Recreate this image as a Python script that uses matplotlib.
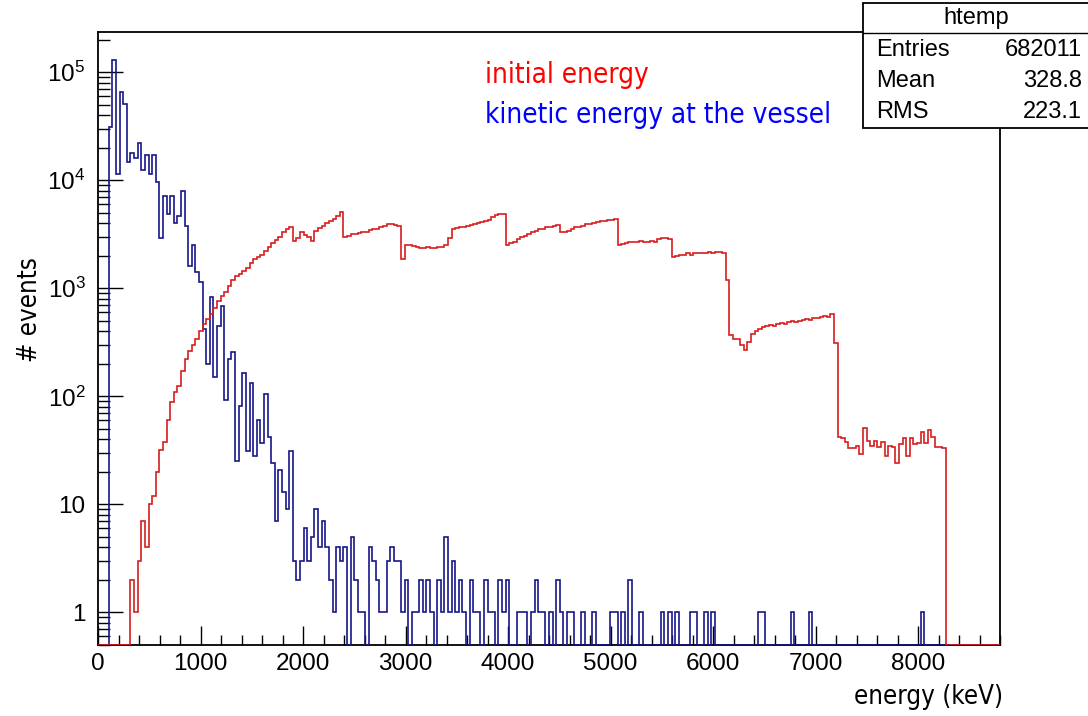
import numpy as np
import matplotlib
matplotlib.use('Agg')
import matplotlib.pyplot as plt
from matplotlib.patches import Rectangle
from matplotlib.lines import Line2D
from matplotlib.ticker import MultipleLocator, FixedLocator, FixedFormatter, LogLocator, NullFormatter

plt.rcParams['font.family'] = ['Liberation Sans', 'DejaVu Sans']
plt.rcParams['mathtext.default'] = 'regular'
narrow = dict(family='DejaVu Sans', stretch='condensed')

# histogram binning (keV)
n_bins = 250
e_min, e_max = 0.0, 8800.0

# initial energy, bins 9..234
red_first = 9
red_counts = [
    2, 1, 3, 7, 4, 10, 12, 20, 32, 38, 60, 88, 110, 125, 170, 220, 260, 300, 340, 400,
    470, 520, 580, 650, 760, 850, 920, 1050, 1200, 1300, 1350, 1450, 1550, 1700, 1850, 1950, 2050, 2200, 2400, 2600,
    2800, 3000, 3300, 3500, 3700, 2750, 2900, 3300, 3100, 2950, 2750, 3400, 3600, 3800, 4000, 4200, 4400, 4700, 5100, 2950,
    3050, 3150, 3200, 3250, 3300, 3350, 3450, 3500, 3550, 3650, 3800, 3900, 3900, 3850, 3800, 1850, 2500, 2500, 2450, 2400,
    2350, 2350, 2400, 2350, 2350, 2400, 2400, 2500, 2900, 3500, 3600, 3650, 3700, 3800, 3850, 3950, 4000, 4100, 4200, 4300,
    4600, 4800, 4900, 4900, 2500, 2600, 2700, 2850, 2950, 3050, 3200, 3300, 3400, 3500, 3550, 3650, 3700, 3800, 3850, 3300,
    3300, 3400, 3550, 3650, 3700, 3800, 3900, 3950, 4050, 4100, 4150, 4200, 4300, 4300, 4350, 2500, 2550, 2650, 2700, 2700,
    2700, 2750, 2700, 2700, 2750, 2700, 2850, 2900, 2900, 2850, 1950, 2000, 2050, 2050, 2100, 2050, 2100, 2100, 2100, 2100,
    2150, 2100, 2150, 2150, 2100, 1200, 370, 340, 340, 300, 270, 320, 380, 400, 420, 440, 450, 460, 450, 470,
    480, 470, 490, 500, 490, 500, 510, 520, 510, 530, 530, 540, 550, 540, 580, 310, 42, 41, 38, 33,
    33, 35, 29, 51, 39, 35, 39, 34, 38, 28, 35, 34, 24, 36, 41, 28, 41, 36, 37, 47,
    37, 49, 42, 34, 34, 33,
]

# kinetic energy at the vessel, bins 3..131
blue_first = 3
blue_counts = [
    31000, 130000, 11500, 66000, 51000, 14800, 18000, 16000, 22000, 12500,
    17000, 11300, 17000, 9600, 2900, 7200, 4900, 7200, 4000, 4700,
    8000, 3800, 1600, 2500, 1400, 1140, 420, 200, 830, 150,
    450, 680, 93, 220, 255, 25, 81, 165, 31, 133,
    28, 61, 37, 106, 42, 24, 7, 21, 13, 9,
    31, 3, 2, 3, 6, 3, 5, 9, 4, 7,
    4, 2, 1, 4, 3, 4, 0, 5, 2, 1,
    1, 0, 4, 3, 2, 1, 1, 3, 4, 3,
    3, 1, 2, 0, 1, 1, 2, 1, 2, 1,
    0, 2, 1, 5, 1, 3, 1, 2, 1, 0,
    2, 1, 1, 0, 2, 1, 1, 0, 2, 1,
    2, 0, 0, 1, 1, 1, 0, 1, 2, 1,
    1, 0, 1, 0, 2, 1, 0, 1, 1,
]
# sparse high-energy tail of the same histogram
tail_bins = [134, 137, 142, 143, 145, 147, 150, 156, 158, 160, 164, 165, 168, 170, 183, 184, 192, 197, 228]
tail_counts = [1, 1, 1, 1, 1, 2, 1, 1, 1, 1, 1, 1, 1, 1, 1, 1, 1, 1, 1]

stats_title = 'htemp'
stats_names = ['Entries', 'Mean', 'RMS']
stats_values = ['682011', '328.8', '223.1']

y_lo, y_hi = 0.5, 2.35e5

edges = np.linspace(e_min, e_max, n_bins + 1)
h_init = np.zeros(n_bins)
h_init[red_first:red_first + len(red_counts)] = red_counts
h_kin = np.zeros(n_bins)
h_kin[blue_first:blue_first + len(blue_counts)] = blue_counts
h_kin[tail_bins] = tail_counts

W, H = 1088, 716
fig = plt.figure(figsize=(W / 100, H / 100), dpi=100)
ax = fig.add_axes([98 / W, 71 / H, 902 / W, 613 / H])

# empty bins sit on the bottom of the frame, like ROOT does
ax.stairs(np.maximum(h_kin, y_lo), edges, baseline=None, color='#16168a', lw=1.2, zorder=3)
ax.stairs(np.maximum(h_init, y_lo), edges, baseline=None, color='#d81e1e', lw=1.2, zorder=3)

ax.set_yscale('log')
ax.set_xlim(e_min, e_max)
ax.set_ylim(y_lo, y_hi)

ax.xaxis.set_major_locator(MultipleLocator(1000))
ax.xaxis.set_minor_locator(MultipleLocator(200))
dec = [1, 10, 100, 1e3, 1e4, 1e5]
ax.yaxis.set_major_locator(FixedLocator(dec))
ax.yaxis.set_major_formatter(FixedFormatter(['1', '10', r'$\mathregular{10^{2}}$', r'$\mathregular{10^{3}}$',
                                             r'$\mathregular{10^{4}}$', r'$\mathregular{10^{5}}$']))
ax.yaxis.set_minor_locator(LogLocator(base=10, subs=np.arange(2, 10)))
ax.yaxis.set_minor_formatter(NullFormatter())

ax.tick_params(which='both', direction='in', top=False, right=False, width=1.0, colors='black')
ax.tick_params(axis='x', which='major', length=13.5, pad=6, labelsize=17.5)
ax.tick_params(axis='x', which='minor', length=7)
ax.tick_params(axis='y', which='major', length=18, pad=9, labelsize=17.5)
ax.tick_params(axis='y', which='minor', length=8.5)
for s in ax.spines.values():
    s.set_linewidth(1.3)

fig.text(485 / W, 1 - 75 / H, 'initial energy', color='#ff0000', fontsize=20,
         ha='left', va='center', **narrow)
fig.text(485 / W, 1 - 115 / H, 'kinetic energy at the vessel', color='#0000ff', fontsize=20,
         ha='left', va='center', **narrow)
fig.text(30 / W, 1 - 310 / H, '# events', rotation=90, fontsize=18.5,
         ha='center', va='center', **narrow)
fig.text(1003 / W, 1 - 697 / H, 'energy (keV)', fontsize=18.5,
         ha='right', va='center', **narrow)

# statistics box
box = Rectangle((863 / W, 1 - 128 / H), 0.3, 125 / H, transform=fig.transFigure,
                facecolor='white', edgecolor='black', lw=1.3, zorder=5)
fig.add_artist(box)
fig.add_artist(Line2D([863 / W, 1.0], [1 - 33 / H, 1 - 33 / H], transform=fig.transFigure,
                      color='black', lw=1.0, zorder=6))
fig.text(976 / W, 1 - 18 / H, stats_title, fontsize=17, ha='center', va='center', zorder=7)
for i, (name, val) in enumerate(zip(stats_names, stats_values)):
    y = 1 - (50 + 31 * i) / H
    fig.text(876 / W, y, name, fontsize=17, ha='left', va='center', zorder=7)
    fig.text(1082 / W, y, val, fontsize=17, ha='right', va='center', zorder=7)

fig.savefig('out.png', dpi=100)
